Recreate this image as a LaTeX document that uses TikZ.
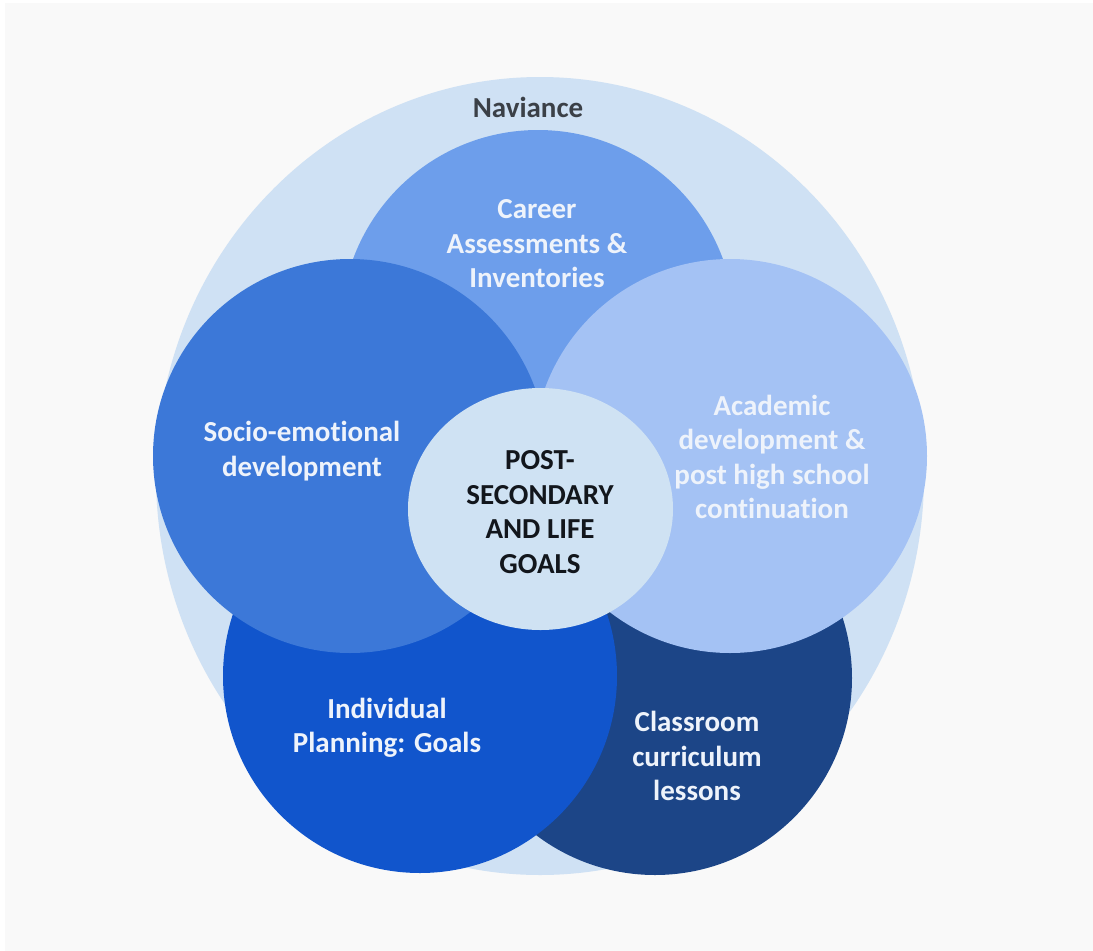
\documentclass[tikz,border=0pt]{standalone}
\usepackage{fontspec}
\setmainfont{Carlito}[Ligatures=NoCommon]
\usetikzlibrary{shapes.geometric}
\definecolor{bgc}{HTML}{F9F9F9}
\definecolor{navc}{HTML}{CFE1F4}
\definecolor{carc}{HTML}{6D9EEB}
\definecolor{socc}{HTML}{3C78D8}
\definecolor{acac}{HTML}{A4C2F4}
\definecolor{indc}{HTML}{1155CC}
\definecolor{clac}{HTML}{1C4587}
\definecolor{cenc}{HTML}{CFE2F3}
\definecolor{wtxt}{HTML}{EEF3FB}
\definecolor{dtxt}{HTML}{3B4047}
\definecolor{ctxt}{HTML}{12161C}
\tikzset{
  blob/.style={circle, minimum size=394pt, inner sep=0pt, draw=none},
  oval/.style={ellipse, inner sep=0pt, draw=none},
  lbl/.style={align=center, font=\bfseries\fontsize{29}{34.5}\selectfont, text=wtxt, inner sep=0pt},
}
\begin{document}
\begin{tikzpicture}[x=1pt,y=-1pt]
\useasboundingbox (0,0) rectangle (1093,951);
\fill[white] (0,0) rectangle (1093,951);
\fill[bgc] (5,3) rectangle (1093,951);
% shapes
\node[oval, fill=navc, minimum width=768pt, minimum height=798pt] (naviance) at (540,476) {};
\node[blob, fill=carc] (career) at (538,327) {};
\node[blob, fill=clac] (classroom) at (655,678) {};
\node[blob, fill=indc] (individual) at (420,676) {};
\node[blob, fill=socc] (socio) at (350,456) {};
\node[blob, fill=acac] (academic) at (730,456) {};
\node[oval, fill=cenc, minimum width=265pt, minimum height=242pt] (goals) at (540.5,509) {};
% labels
\node[lbl, text=dtxt] (tnav) at (528,107) {Naviance};
\node[lbl] (tcar) at (537,244) {Career\\Assessments \&\\Inventories};
\node[lbl] (tsoc) at (302,451) {Socio-emotional\\development};
\node[lbl] (taca) at (772,457) {Academic\\development \&\\post high school\\continuation};
\node[lbl, text=ctxt] (tgoa) at (540,512) {POST-\\SECONDARY\\AND LIFE\\GOALS};
\node[lbl] (tind) at (387,728) {Individual\\Planning: Goals};
\node[lbl] (tcla) at (697,756) {Classroom\\curriculum\\lessons};
\end{tikzpicture}
\end{document}
